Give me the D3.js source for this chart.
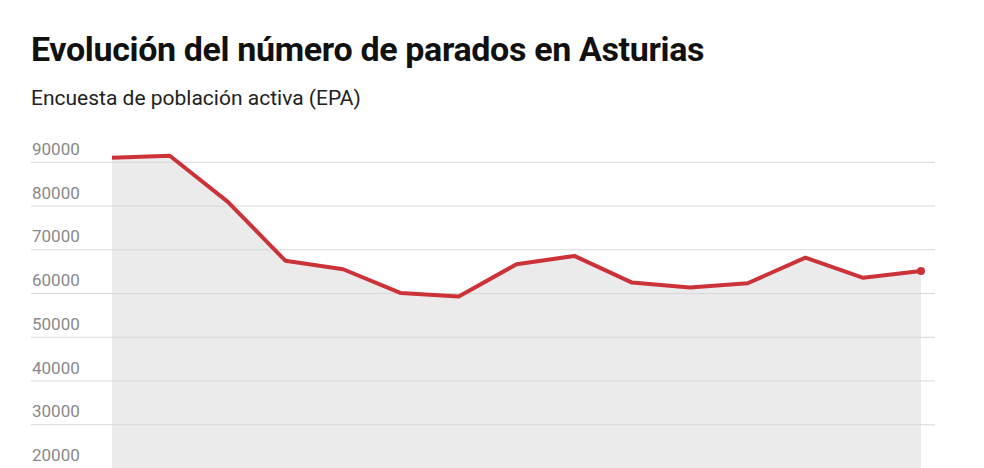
<!DOCTYPE html>
<html><head><meta charset="utf-8">
<script src="https://cdn.jsdelivr.net/npm/d3@7"></script>
<style>
html,body{margin:0;padding:0;background:#fff;overflow:hidden;}
svg{display:block;}
</style></head>
<body>
<svg id="chart" width="984" height="468"></svg>
<script>
const title = "Evolución del número de parados en Asturias";
const subtitle = "Encuesta de población activa (EPA)";
const periods = ["P1","P2","P3","P4","P5","P6","P7","P8","P9","P10","P11","P12","P13","P14","P15"];
const parados = [91050, 91500, 81000, 67500, 65550, 60100, 59300, 66700, 68600, 62500, 61400, 62350, 68200, 63600, 65150];
const yTicks = [20000, 30000, 40000, 50000, 60000, 70000, 80000, 90000];

const svg = d3.select("#chart");
const font = "Roboto, 'Open Sans', sans-serif";

svg.append("text").attr("x", 31).attr("y", 61)
  .attr("font-family", font).attr("font-weight", 700).attr("font-size", 34)
  .attr("fill", "#111").attr("letter-spacing", -0.35).text(title);
svg.append("text").attr("x", 31).attr("y", 105)
  .attr("font-family", font).attr("font-weight", 400).attr("font-size", 21)
  .attr("fill", "#222").text(subtitle);

const x = d3.scalePoint().domain(periods).range([112, 921]);
const y = d3.scaleLinear().domain([0, 90000]).range([556, 162.3]);

const data = periods.map((p, i) => ({p, v: parados[i]}));

// area
svg.append("path").datum(data)
  .attr("d", d3.area().x(d => x(d.p)).y0(y(0)).y1(d => y(d.v)))
  .attr("fill", "#ebebeb");

// gridlines
svg.append("g").selectAll("line").data(yTicks).join("line")
  .attr("x1", 31).attr("x2", 935)
  .attr("y1", d => y(d)).attr("y2", d => y(d))
  .attr("stroke", "#d8d8d8").attr("stroke-width", 1);

// labels
svg.append("g").selectAll("text").data(yTicks).join("text")
  .attr("x", 32).attr("y", d => y(d) - 7.3)
  .attr("font-family", font).attr("font-size", 17).attr("fill", "#8a8a8a")
  .text(d => d3.format("d")(d));

// line
svg.append("path").datum(data)
  .attr("d", d3.line().x(d => x(d.p)).y(d => y(d.v)))
  .attr("fill", "none").attr("stroke", "#cc3339").attr("stroke-width", 4)
  .attr("stroke-linejoin", "round");

const last = data[data.length - 1];
svg.append("circle").attr("cx", x(last.p)).attr("cy", y(last.v)).attr("r", 4)
  .attr("fill", "#cc3339");
</script>
</body></html>
